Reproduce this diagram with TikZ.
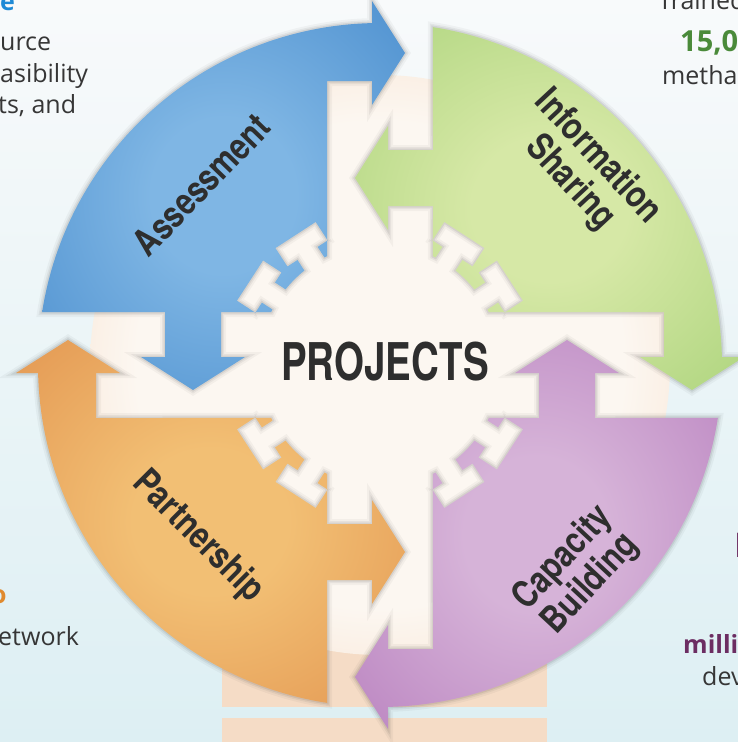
\documentclass[tikz,border=0pt]{standalone}
\usepackage{fontspec}
\setmainfont{Open Sans}
\newfontfamily\labfont{TeX Gyre Heros}
\usetikzlibrary{calc}
\definecolor{bgtop}{HTML}{F8FAFB}
\definecolor{bgbot}{HTML}{DDEFF3}
\definecolor{creamc}{HTML}{FCF7F1}
\definecolor{peachm}{HTML}{F8E5D4}
\definecolor{peachc}{HTML}{F5DCC6}
\definecolor{blueL}{HTML}{7FB6E4}
\definecolor{blueD}{HTML}{3F85C9}
\definecolor{greenL}{HTML}{D6E8A6}
\definecolor{greenD}{HTML}{A2CF72}
\definecolor{orangeL}{HTML}{F2BF74}
\definecolor{orangeD}{HTML}{DF8C48}
\definecolor{purpleL}{HTML}{D6B3D8}
\definecolor{purpleD}{HTML}{B377BA}
\definecolor{txtc}{HTML}{2E2E2E}
\definecolor{outtxt}{HTML}{363636}
\definecolor{bluetxt}{HTML}{1F8AD6}
\definecolor{greentxt}{HTML}{4A8A3A}
\definecolor{orangetxt}{HTML}{E08A2E}
\definecolor{purpletxt}{HTML}{6C2D62}
\pgfdeclareradialshading{peachsh}{\pgfpoint{0bp}{0bp}}{color(0bp)=(creamc); color(21bp)=(creamc); color(31bp)=(peachm); color(44bp)=(peachc); color(50bp)=(peachc)}
\pgfdeclareradialshading{blueshade}{\pgfpoint{0bp}{0bp}}{color(0bp)=(blueL); color(10bp)=(blueL); color(44bp)=(blueD); color(50bp)=(blueD)}
\pgfdeclareradialshading{greenshade}{\pgfpoint{0bp}{0bp}}{color(0bp)=(greenL); color(10bp)=(greenL); color(44bp)=(greenD); color(50bp)=(greenD)}
\pgfdeclareradialshading{orangeshade}{\pgfpoint{0bp}{0bp}}{color(0bp)=(orangeL); color(10bp)=(orangeL); color(44bp)=(orangeD); color(50bp)=(orangeD)}
\pgfdeclareradialshading{purpleshade}{\pgfpoint{0bp}{0bp}}{color(0bp)=(purpleL); color(10bp)=(purpleL); color(44bp)=(purpleD); color(50bp)=(purpleD)}
\newcommand\condtxt[1]{\scalebox{0.82}[1]{\begin{tabular}{@{}c@{}}#1\end{tabular}}}
\tikzset{
  pics/quad/.style={code={
    \shade[shading=#1,
      preaction={draw=black,opacity=.035,line width=10},
      preaction={draw=black,opacity=.05,line width=6},
      preaction={draw=black,opacity=.07,line width=3}]
      (188.91:342) arc[start angle=188.91, end angle=268.66, radius=342]
      -- (-8,-364) -- (25,-312) -- (-8,-260) -- (-8,-284) -- (-53,-284)
      -- (244.03:121) arc[start angle=244.03, end angle=242.69, radius=121]
      -- ($(237:133)+(327:12)$) -- ($(237:133)+(327:24)$) -- ($(237:155)+(327:24)$)
      -- ($(237:155)+(147:24)$) -- ($(237:133)+(147:24)$) -- ($(237:133)+(147:12)$)
      -- (231.31:121) arc[start angle=231.31, end angle=218.69, radius=121]
      -- ($(213:133)+(303:12)$) -- ($(213:133)+(303:24)$) -- ($(213:155)+(303:24)$)
      -- ($(213:155)+(123:24)$) -- ($(213:133)+(123:24)$) -- ($(213:133)+(123:12)$)
      -- (207.31:121) arc[start angle=207.31, end angle=205.97, radius=121]
      -- (-159,-53) -- (-159,-8) -- (-135,-8) -- (-187,25) -- (-239,-8) -- (-215,-8) -- (-215,-53) -- cycle;
  }},
  lbl/.style={inner sep=0pt, text=txtc, font=\labfont\bfseries\fontsize{37}{35}\selectfont},
  outt/.style={anchor=base west, inner sep=0pt, text=outtxt, font=\fontsize{25}{28}\selectfont},
  outb/.style={anchor=base west, inner sep=0pt, font=\bfseries\fontsize{25}{28}\selectfont}
}
\begin{document}
\begin{tikzpicture}[x=1pt,y=-1pt]
\useasboundingbox (0,0) rectangle (738,742);
\shade[top color=bgtop, bottom color=bgbot] (0,0) rectangle (738,742);
% peach backdrop
\fill[peachc] (222,560) rectangle (547,707);
\fill[peachc] (222,718) rectangle (547,750);
\shade[shading=peachsh] (380,365) circle[radius=290];
% quadrants
\pic at (380,365) {quad=blueshade};
\pic[rotate=-90] at (380,365) {quad=greenshade};
\pic[rotate=90] at (380,365) {quad=orangeshade};
\pic[rotate=180] at (380,365) {quad=purpleshade};
% labels
\node[inner sep=0pt, text=txtc, font=\labfont\bfseries\fontsize{52}{52}\selectfont] (projects) at (385,362) {\scalebox{0.74}[1]{PROJECTS}};
\node[lbl, rotate=46] (assess) at (205,188) {\condtxt{Assessment}};
\node[lbl, rotate=-47] (info) at (583,171) {\condtxt{Information\\Sharing}};
\node[lbl, rotate=-45] (partner) at (197,538) {\condtxt{Partnership}};
\node[lbl, rotate=47] (cap) at (578,572) {\condtxt{Capacity\\Building}};
% cut-off surrounding texts
\node[outb, text=bluetxt] (t1) at (0,10) {e};
\node[outt] (t2) at (0,50) {urce};
\node[outt] (t3) at (0,82) {asibility};
\node[outt] (t4) at (-2,113) {ts, and};
\node[outt] (t5) at (658,9) {Trained};
\node[outb, text=greentxt, font=\bfseries\fontsize{29}{30}\selectfont] (t6) at (680,51) {15,0};
\node[outt] (t7) at (662,84) {metha};
\node[outb, text=orangetxt] (t8) at (-9,603) {o};
\node[outt] (t9) at (-2,645) {etwork};
\node[outb, text=purpletxt, font=\bfseries\fontsize{34}{36}\selectfont] (t10) at (734,557) {I};
\node[outb, text=purpletxt] (t11) at (683,653) {milli};
\node[outt] (t12) at (702,685) {dev};
\end{tikzpicture}
\end{document}
